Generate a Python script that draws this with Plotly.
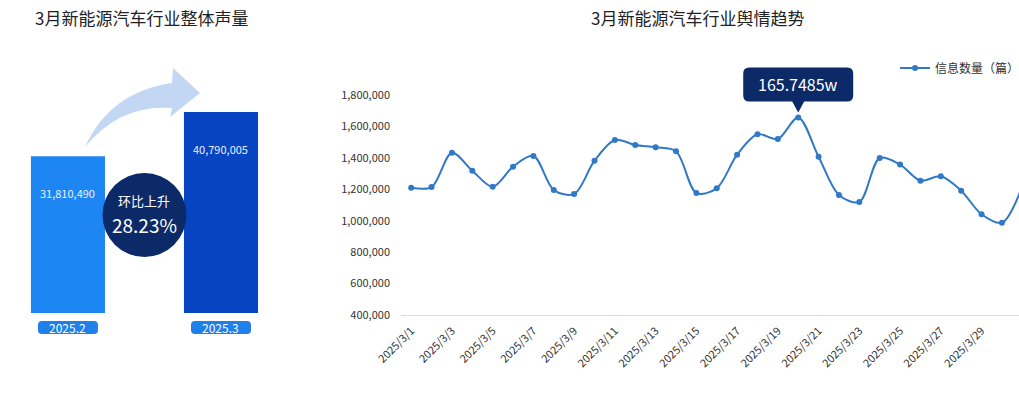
import plotly.graph_objects as go

# ---------------- data ----------------
month_labels = ["2025.2", "2025.3"]
month_values = [31810490, 40790005]
month_colors = ["#1e86f2", "#0744c1"]
growth_label = "环比上升"
growth_text = "28.23%"

dates = [f"2025/3/{d}" for d in range(1, 32)]
counts = [1210000, 1214000, 1433000, 1318000, 1216000, 1344000, 1412000,
          1195000, 1170000, 1382000, 1514000, 1482000, 1467000, 1442000,
          1176000, 1206000, 1420000, 1550000, 1520000, 1657485, 1407000,
          1164000, 1119000, 1399000, 1357000, 1255000, 1283000, 1191000,
          1041000, 987000, 1218000]
y_ticks = [400000, 600000, 800000, 1000000, 1200000, 1400000, 1600000, 1800000]

W, H = 1019, 396
FONT = "Noto Sans CJK SC, Noto Sans, sans-serif"


def fx(p):
    return p / W


def fy(p):
    return 1 - p / H


def rr(x0, x1, y0, y1, r):
    # rounded rect path in pixel offsets (y up)
    return (f"M{x0+r},{y0} L{x1-r},{y0} Q{x1},{y0} {x1},{y0+r} L{x1},{y1-r} "
            f"Q{x1},{y1} {x1-r},{y1} L{x0+r},{y1} Q{x0},{y1} {x0},{y1-r} "
            f"L{x0},{y0+r} Q{x0},{y0} {x0+r},{y0} Z")


fig = go.Figure()

# ---------------- left: bars ----------------
xi = list(range(len(month_labels)))
fig.add_trace(go.Bar(
    x=xi, y=month_values, width=0.484, marker_color=month_colors,
    marker_line_width=0, xaxis="x2", yaxis="y2", showlegend=False,
    hoverinfo="skip"))

# ---------------- right: line ----------------
idx = list(range(len(dates)))
fig.add_trace(go.Scatter(
    x=idx, y=counts, mode="lines+markers", name="信息数量（篇）",
    line=dict(color="#3179c6", width=2, shape="spline", smoothing=0.9),
    marker=dict(color="#3179c6", size=6),
    xaxis="x", yaxis="y"))

shapes = []
annotations = []

# titles
annotations.append(dict(text="3月新能源汽车行业整体声量", xref="paper", yref="paper",
                        x=fx(33), y=fy(18), xanchor="left", yanchor="middle",
                        showarrow=False, font=dict(size=17, color="#222", family=FONT)))
annotations.append(dict(text="3月新能源汽车行业舆情趋势", xref="paper", yref="paper",
                        x=fx(697), y=fy(18), xanchor="center", yanchor="middle",
                        showarrow=False, font=dict(size=17, color="#222", family=FONT)))

# bar value labels
for i, v in zip(xi, month_values):
    annotations.append(dict(text=f"{v:,}", xref="x2", yref="y2", x=i, y=v,
                            yshift=-37, showarrow=False,
                            font=dict(size=11, color="#e8f1ff", family=FONT)))

# category pills
for i, lab in zip(xi, month_labels):
    shapes.append(dict(type="path", xref="x2", yref="paper", xsizemode="pixel",
                       ysizemode="pixel", xanchor=i, yanchor=fy(327.5),
                       path=rr(-30, 30, -6.5, 6.5, 4), fillcolor="#1f80ea",
                       line=dict(width=0), layer="above"))
    annotations.append(dict(text=lab, xref="x2", yref="paper", x=i, y=fy(327.5),
                            showarrow=False, yanchor="middle",
                            font=dict(size=12, color="white", family=FONT)))

# curved arrow
pts = "M{},{} Q{},{} {},{} L{},{} L{},{} L{},{} L{},{} Q{},{} {},{} Z"
arrow_px = [(85, 147), (110, 92), (172, 83), (173, 68), (200, 93), (170, 117),
            (172, 108), (120, 104), (85, 147)]
coords = []
for x, y in arrow_px:
    coords += [round(fx(x), 5), round(fy(y), 5)]
shapes.append(dict(type="path", xref="paper", yref="paper", path=pts.format(*coords),
                   fillcolor="#c3d7f5", line=dict(width=0), layer="above"))

# growth circle between bars
shapes.append(dict(type="circle", xref="x2", yref="paper", xsizemode="pixel",
                   ysizemode="pixel", xanchor=0.5, yanchor=fy(215),
                   x0=-42, x1=42, y0=-42, y1=42, fillcolor="#0c2a68",
                   line=dict(width=0), layer="above"))
annotations.append(dict(text=growth_label, xref="x2", yref="paper", x=0.5, y=fy(200),
                        showarrow=False, yanchor="middle", borderpad=0,
                        font=dict(size=13, color="white", family=FONT)))
annotations.append(dict(text=growth_text, xref="x2", yref="paper", x=0.5, y=fy(224),
                        showarrow=False, yanchor="middle", borderpad=0,
                        font=dict(size=19, color="white", family=FONT)))

# peak callout
imax = max(idx, key=lambda k: counts[k])
vmax = counts[imax]
call_path = (f"M-49,16 L-6,16 L0,5 L6,16 L49,16 Q55,16 55,22 L55,44 Q55,50 49,50 "
             f"L-49,50 Q-55,50 -55,44 L-55,22 Q-55,16 -49,16 Z")
shapes.append(dict(type="path", xref="x", yref="y", xsizemode="pixel", ysizemode="pixel",
                   xanchor=imax, yanchor=vmax, path=call_path, fillcolor="#0c2a68",
                   line=dict(width=0), layer="above"))
annotations.append(dict(text=f"{vmax/10000:.4f}w", xref="x", yref="y", x=imax, y=vmax,
                        yshift=33, showarrow=False, yanchor="middle",
                        font=dict(size=16, color="white", family=FONT)))

cat_w = 20.37
x_end = (W - 401) / cat_w - 0.5
# y axis: 400k at px 315, 1.8M at px 95; extend the range upward so the callout isn't clipped
y_top = 2300000
px_per = 220 / 1400000
top_px = 315 - (y_top - 400000) * px_per

fig.update_layout(
    width=W, height=H, margin=dict(l=0, r=0, t=0, b=0, autoexpand=False),
    paper_bgcolor="white", plot_bgcolor="white",
    font=dict(family=FONT, color="#333", size=11),
    shapes=shapes, annotations=annotations,
    showlegend=True,
    legend=dict(x=1 + 6 / W, xanchor="right", y=fy(68), yanchor="middle",
                bgcolor="rgba(0,0,0,0)", itemwidth=30,
                font=dict(size=12, color="#333", family=FONT)),
    xaxis=dict(domain=[fx(401), 1], range=[-0.5, x_end], anchor="y",
               tickmode="array", tickvals=idx[::2], ticktext=dates[::2],
               tickangle=-45, showgrid=False, zeroline=False, automargin=False,
               showline=True, linecolor="#dcdcdc", linewidth=1, ticks="",
               ticklabelstandoff=4,
               tickfont=dict(size=11, color="#333")),
    yaxis=dict(domain=[fy(315), fy(top_px)], range=[400000, y_top], anchor="x",
               tickmode="array", tickvals=y_ticks, tickformat=",",
               showgrid=False, zeroline=False, showline=False, ticks="",
               automargin=False,
               ticklabelstandoff=10, tickfont=dict(size=11, color="#333")),
    xaxis2=dict(domain=[0, fx(290)], range=[-0.444, 1.451], anchor="y2",
                visible=False, fixedrange=True, automargin=False),
    yaxis2=dict(domain=[fy(313), fy(60)], range=[0, 253 * 202935], anchor="x2",
                visible=False, fixedrange=True, automargin=False),
)

fig.write_html("out.html")
